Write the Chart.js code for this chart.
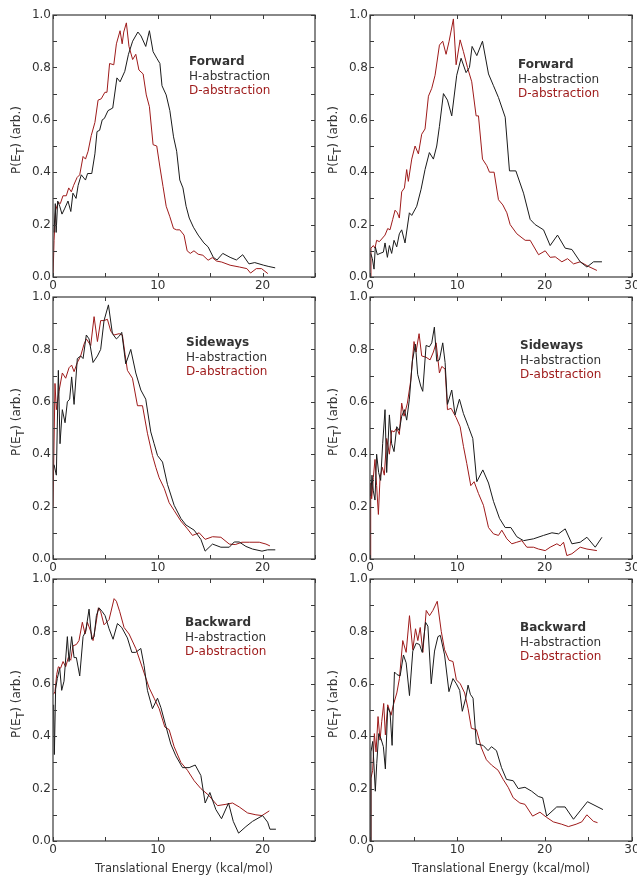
<!DOCTYPE html>
<html lang="en">
<head>
  <meta charset="UTF-8" />
  <title>P(E_T) translational energy distributions</title>
  <script src="https://cdn.jsdelivr.net/npm/chart.js"></script>
  <style>
    body { margin: 0; background: #fff; }
    .page { position: relative; width: 637px; height: 876px; overflow: hidden; }
    .page canvas { position: absolute; }
  </style>
</head>
<body>
<div class="page">
  <canvas id="fwdL" width="320" height="297" style="left:0;top:0"></canvas>
  <canvas id="fwdR" width="320" height="297" style="left:317px;top:0"></canvas>
  <canvas id="sideL" width="320" height="297" style="left:0;top:282px"></canvas>
  <canvas id="sideR" width="320" height="297" style="left:317px;top:282px"></canvas>
  <canvas id="backL" width="320" height="312" style="left:0;top:564px"></canvas>
  <canvas id="backR" width="320" height="312" style="left:317px;top:564px"></canvas>
</div>

<script>
  // tick labels
  const yTicks = [0, 0.2, 0.4, 0.6, 0.8, 1.0];
  const xTicksLeft = [0, 10, 20];
  const xTicksRight = [0, 10, 20, 30];

  // Forward, left
  const fwdL_H_E = [0.1,0.22,0.3,0.45,0.64,0.86,1.1,1.43,1.7,1.9,2.2,2.4,2.7,3.1,3.3,3.7,4.0,4.2,4.45,4.7,4.9,5.25,5.7,6.1,6.4,6.85,7.2,7.6,8.1,8.4,8.85,9.2,9.55,9.9,10.2,10.4,10.8,11.15,11.5,11.8,12.1,12.4,12.7,13.0,13.4,13.85,14.4,14.8,15.3,15.65,16.2,16.9,17.5,18.1,18.7,19.25,20.1,20.6,21.2];
  const fwdL_H_P = [.17,.28,.17,.29,.27,.24,.26,.29,.25,.32,.30,.35,.39,.37,.395,.395,.47,.555,.56,.60,.605,.635,.645,.76,.745,.785,.85,.90,.935,.92,.88,.94,.86,.835,.815,.73,.695,.635,.535,.48,.37,.34,.27,.225,.19,.16,.13,.115,.075,.065,.09,.075,.065,.085,.05,.055,.045,.04,.035];
  const fwdL_D_E = [0,0.1,0.25,0.5,0.7,0.95,1.27,1.5,1.75,1.97,2.3,2.55,2.87,3.1,3.35,3.65,4.0,4.3,4.6,4.95,5.15,5.4,5.8,6.05,6.4,6.6,6.75,7.0,7.25,7.6,7.9,8.2,8.6,8.9,9.2,9.55,9.9,10.2,10.5,10.8,11.15,11.5,11.8,12.1,12.5,12.8,13.1,13.45,13.85,14.3,14.8,15.2,15.6,16.1,16.9,17.8,18.5,18.85,19.4,19.9,20.5];
  const fwdL_D_P = [0,.14,.255,.285,.28,.31,.31,.34,.325,.35,.38,.39,.46,.45,.48,.54,.59,.675,.68,.705,.705,.815,.81,.89,.94,.89,.935,.97,.88,.83,.85,.79,.775,.695,.65,.505,.50,.42,.345,.27,.23,.185,.18,.18,.16,.10,.09,.10,.087,.083,.064,.074,.061,.057,.045,.038,.032,.015,.032,.032,.013];

  // Forward, right
  const fwdR_H_E = [0.08,0.27,0.46,0.61,0.84,1.15,1.53,1.72,1.99,2.22,2.48,2.75,3.06,3.36,3.63,4.01,4.51,4.78,5.35,5.85,6.3,6.8,7.26,7.64,7.95,8.41,8.87,9.36,9.93,10.43,11.0,11.39,11.69,12.23,12.88,13.57,14.14,14.71,15.48,15.97,16.7,17.58,18.34,18.91,19.87,20.63,21.47,22.35,23.12,24.07,24.84,25.6,26.56];
  const fwdR_H_P = [.09,.07,.03,.115,.085,.09,.095,.13,.075,.12,.09,.14,.115,.165,.18,.13,.245,.235,.27,.335,.41,.475,.45,.50,.575,.70,.675,.615,.77,.835,.78,.80,.88,.845,.90,.775,.73,.685,.61,.405,.405,.32,.22,.20,.18,.12,.16,.11,.105,.058,.038,.058,.058];
  const fwdR_D_E = [0,0.11,0.38,0.57,0.76,1.07,1.34,1.72,2.03,2.29,2.6,2.87,3.13,3.36,3.63,3.94,4.2,4.39,4.78,5.16,5.54,5.92,6.3,6.69,7.07,7.45,7.95,8.33,8.71,9.06,9.55,9.86,10.32,10.7,11.16,11.65,12.15,12.42,12.88,13.37,13.68,14.21,14.71,15.21,15.67,16.05,16.81,17.77,18.34,19.3,20.06,20.63,21.21,21.97,22.62,23.31,24.07,25.03,25.98];
  const fwdR_D_P = [0,.11,.12,.11,.14,.135,.145,.16,.185,.18,.22,.255,.245,.225,.325,.34,.41,.365,.45,.50,.47,.545,.565,.69,.72,.77,.885,.90,.85,.90,.985,.81,.905,.86,.80,.745,.615,.615,.45,.425,.40,.40,.295,.275,.245,.20,.165,.14,.14,.085,.10,.075,.077,.058,.07,.05,.058,.04,.025];

  // Sideways, left
  const sideL_H_E = [0.1,0.32,0.51,0.67,0.89,1.15,1.37,1.59,1.78,2.01,2.32,2.64,2.87,3.18,3.44,3.82,4.24,4.55,4.87,5.29,5.67,6.05,6.31,6.56,6.94,7.42,7.9,8.38,8.85,9.33,9.65,9.97,10.45,10.92,11.56,12.2,12.68,13.47,14.11,14.52,15.22,16.02,16.82,17.29,17.77,18.41,19.04,19.94,20.48,21.21];
  const sideL_H_P = [.36,.32,.72,.44,.57,.52,.60,.61,.695,.59,.765,.775,.765,.855,.84,.75,.775,.80,.91,.97,.86,.84,.85,.865,.745,.80,.71,.645,.61,.485,.44,.395,.37,.285,.205,.155,.13,.11,.075,.03,.057,.045,.045,.065,.065,.048,.038,.03,.035,.035];
  const sideL_D_E = [0,0.19,0.32,0.57,0.89,1.21,1.53,1.78,2.01,2.32,2.64,2.96,3.18,3.6,3.92,4.24,4.55,4.87,5.19,5.51,5.83,6.31,6.62,6.88,7.1,7.58,8.06,8.54,9.01,9.49,9.81,10.13,10.61,11.08,11.56,12.2,12.83,13.31,13.95,14.52,15.22,16.02,16.82,17.39,18.03,18.73,19.68,20.32,20.7];
  const sideL_D_P = [.2,.67,.57,.64,.71,.69,.73,.74,.715,.75,.775,.82,.84,.815,.925,.83,.91,.91,.915,.87,.855,.86,.855,.78,.72,.69,.585,.585,.48,.395,.35,.31,.27,.215,.185,.145,.115,.09,.10,.075,.085,.083,.057,.055,.064,.064,.064,.057,.05];

  // Sideways, right
  const sideR_H_E = [0.08,0.23,0.38,0.57,0.76,0.99,1.22,1.45,1.72,1.91,2.22,2.48,2.75,3.06,3.36,3.63,3.94,4.2,4.51,4.85,5.2,5.46,5.81,6.04,6.42,6.8,7.07,7.37,7.64,7.95,8.33,8.6,8.87,9.36,9.74,10.24,10.7,11.27,11.77,12.23,12.92,13.57,14.14,14.83,15.48,16.13,16.81,17.58,18.72,19.87,20.83,21.59,22.35,23.12,24.07,24.84,25.79,26.56];
  const sideR_H_P = [.24,.32,.26,.225,.40,.33,.30,.44,.57,.33,.55,.44,.41,.505,.49,.545,.57,.53,.61,.755,.82,.705,.66,.64,.815,.81,.825,.885,.755,.76,.825,.75,.59,.645,.55,.61,.555,.505,.46,.295,.34,.29,.22,.155,.12,.12,.085,.07,.077,.09,.10,.096,.115,.058,.064,.083,.045,.083];
  const sideR_D_E = [0,0.08,0.19,0.38,0.57,0.76,0.96,1.15,1.41,1.64,1.91,2.22,2.48,2.75,3.06,3.36,3.63,3.9,4.28,4.66,5.04,5.27,5.62,5.92,6.42,6.88,7.26,7.57,7.95,8.22,8.6,8.87,9.29,9.86,10.32,10.7,11.08,11.54,11.92,12.42,12.99,13.57,14.14,14.71,15.09,15.67,16.24,16.81,17.39,17.96,18.72,19.3,20.06,20.63,21.4,21.78,22.16,22.54,23.12,24.07,24.84,25.98];
  const sideR_D_P = [0,.29,.23,.31,.38,.28,.17,.31,.35,.32,.46,.40,.49,.485,.50,.475,.595,.545,.595,.68,.83,.79,.86,.775,.77,.76,.79,.825,.71,.735,.725,.57,.575,.54,.505,.43,.365,.28,.295,.25,.205,.12,.096,.09,.11,.077,.058,.064,.07,.045,.045,.038,.032,.045,.058,.05,.064,.013,.02,.045,.038,.032];

  // Backward, left
  const backL_H_E = [0.06,0.13,0.25,0.41,0.64,0.83,1.05,1.37,1.53,1.78,2.01,2.23,2.55,2.87,3.12,3.44,3.69,3.92,4.14,4.39,4.71,4.97,5.35,5.73,6.15,6.56,7.1,7.52,7.9,8.38,8.69,9.01,9.49,9.97,10.29,10.76,11.24,11.72,12.36,12.99,13.57,14.11,14.52,14.97,15.54,16.08,16.75,17.2,17.71,18.41,19.04,20.0,20.48,20.7,21.27];
  const backL_H_P = [.52,.33,.58,.62,.66,.575,.61,.78,.685,.78,.70,.70,.63,.78,.80,.885,.77,.78,.86,.89,.875,.86,.81,.77,.83,.815,.775,.72,.72,.735,.67,.575,.505,.545,.51,.44,.37,.325,.28,.28,.29,.25,.145,.185,.12,.085,.145,.075,.03,.055,.075,.097,.072,.045,.045];
  const backL_D_E = [0.06,0.19,0.35,0.51,0.73,0.96,1.21,1.46,1.69,1.91,2.23,2.48,2.8,3.06,3.28,3.6,3.82,4.08,4.33,4.55,4.87,5.35,5.83,6.05,6.37,6.78,7.26,7.9,8.54,9.17,9.65,10.13,10.67,11.08,11.56,12.2,12.83,13.47,14.11,14.84,15.7,16.5,17.13,17.77,18.57,19.36,19.94,20.64];
  const backL_D_P = [.56,.57,.635,.665,.66,.685,.665,.70,.69,.745,.75,.765,.835,.79,.835,.80,.765,.825,.89,.875,.825,.845,.925,.915,.875,.815,.79,.735,.66,.585,.545,.505,.435,.425,.36,.30,.27,.23,.20,.175,.135,.14,.145,.13,.107,.10,.097,.115];

  // Backward, right
  const backR_H_E = [0,0.11,0.31,0.61,0.77,1.0,1.26,1.53,1.76,2.03,2.3,2.53,2.8,3.1,3.45,3.83,4.14,4.52,4.9,5.29,5.67,5.98,6.36,6.63,7.01,7.39,7.78,8.05,8.54,9.04,9.5,9.89,10.27,10.57,10.96,11.23,11.49,11.8,12.18,12.95,13.52,13.91,14.48,15.06,15.63,16.4,16.97,17.74,18.51,19.27,19.77,20.23,21.38,22.34,23.3,24.06,24.9,26.67];
  const backR_H_P = [0,.34,.38,.19,.295,.41,.39,.36,.275,.51,.49,.365,.645,.635,.63,.71,.68,.555,.725,.755,.75,.72,.835,.82,.60,.725,.78,.785,.71,.57,.62,.60,.575,.495,.545,.595,.56,.545,.37,.365,.345,.36,.345,.28,.235,.23,.20,.205,.19,.17,.165,.095,.13,.13,.083,.115,.15,.12];
  const backR_D_E = [0,0.11,0.31,0.5,0.69,0.92,1.15,1.34,1.57,1.76,2.03,2.41,2.68,3.07,3.37,3.75,4.14,4.52,4.9,5.21,5.48,5.75,6.05,6.44,6.82,7.2,7.7,8.16,8.54,9.04,9.5,9.89,10.34,10.84,11.23,11.61,12.18,12.76,13.33,13.91,14.67,15.25,15.82,16.4,17.16,17.74,18.62,19.46,20.23,20.99,21.95,22.72,23.6,24.25,24.83,25.59,26.05];
  const backR_D_P = [0,.24,.27,.41,.34,.475,.385,.455,.525,.405,.52,.48,.52,.565,.62,.765,.72,.86,.73,.81,.765,.815,.72,.88,.86,.88,.915,.80,.73,.69,.685,.615,.60,.565,.505,.43,.425,.355,.31,.29,.27,.235,.205,.165,.145,.14,.095,.11,.09,.073,.064,.055,.064,.073,.10,.075,.07];

  const FONT = '"DejaVu Sans", sans-serif';
  const TEXT = '#333';
  const RED = '#9e1a1a';
  const BLACK = '#1a1a1a';
  Chart.defaults.font.family = FONT;
  Chart.defaults.color = TEXT;

  const zip = (xs, ys) => xs.map((x, i) => ({ x: x, y: ys[i] })).filter(p => p.y !== undefined);

  // frame, inward ticks, y title and the little legend text
  const deco = {
    id: 'deco',
    afterDraw(chart, args, o) {
      const { ctx, chartArea: a, scales: { x, y } } = chart;
      ctx.save();
      ctx.strokeStyle = '#3a3a3a';
      ctx.lineWidth = 1.2;
      ctx.strokeRect(a.left, a.top, a.right - a.left, a.bottom - a.top);

      ctx.lineWidth = 1;
      ctx.beginPath();
      for (let v = x.min; v <= x.max; v += 5) {
        const px = Math.round(x.getPixelForValue(v)) + 0.5;
        ctx.moveTo(px, a.bottom); ctx.lineTo(px, a.bottom - 4);
        ctx.moveTo(px, a.top); ctx.lineTo(px, a.top + 4);
      }
      for (let k = 0; k <= 10; k++) {
        const py = Math.round(y.getPixelForValue(k / 10)) + 0.5;
        ctx.moveTo(a.left, py); ctx.lineTo(a.left + 4, py);
        ctx.moveTo(a.right, py); ctx.lineTo(a.right - 4, py);
      }
      ctx.stroke();

      // y title, rotated, with subscript T
      const midY = (a.top + a.bottom) / 2 - 6;
      ctx.translate(20, midY);
      ctx.rotate(-Math.PI / 2);
      ctx.fillStyle = TEXT;
      ctx.textBaseline = 'alphabetic';
      ctx.font = '12px ' + FONT;
      const p1 = 'P(E', p3 = ') (arb.)';
      ctx.font = '11px ' + FONT;
      const wT = ctx.measureText('T').width;
      ctx.font = '12px ' + FONT;
      const w1 = ctx.measureText(p1).width, w3 = ctx.measureText(p3).width;
      let tx = -(w1 + wT + w3) / 2;
      ctx.fillText(p1, tx, 0); tx += w1;
      ctx.font = '11px ' + FONT;
      ctx.fillText('T', tx, 4); tx += wT;
      ctx.font = '12px ' + FONT;
      ctx.fillText(p3, tx, 0);
      ctx.setTransform(1, 0, 0, 1, 0, 0);

      // in-plot legend
      const lx = a.left + o.dx, ly = a.top + o.dy;
      ctx.textBaseline = 'middle';
      ctx.textAlign = 'left';
      ctx.font = 'bold 12px ' + FONT;
      ctx.fillStyle = TEXT;
      ctx.fillText(o.name, lx, ly);
      ctx.font = '12px ' + FONT;
      ctx.fillText('H\u2013abstraction'.replace('\u2013', '-'), lx, ly + 15);
      ctx.fillStyle = RED;
      ctx.fillText('D-abstraction', lx, ly + 29);
      ctx.restore();
    }
  };

  function makePanel(id, name, hE, hP, dE, dP, xMax, xTicks, bottom, dx, dy) {
    const ctx = document.getElementById(id).getContext('2d');
    new Chart(ctx, {
      type: 'scatter',
      data: {
        datasets: [
          { label: 'H-abstraction', data: zip(hE, hP), showLine: true, borderColor: BLACK, borderWidth: 1, pointRadius: 0, tension: 0 },
          { label: 'D-abstraction', data: zip(dE, dP), showLine: true, borderColor: RED, borderWidth: 1, pointRadius: 0, tension: 0 }
        ]
      },
      options: {
        responsive: false,
        animation: false,
        devicePixelRatio: 1,
        layout: { padding: { top: 15, right: 5, left: 0, bottom: 0 } },
        plugins: {
          legend: { display: false },
          tooltip: { enabled: false },
          deco: { name: name, dx: dx, dy: dy }
        },
        scales: {
          x: {
            type: 'linear', min: 0, max: xMax,
            afterBuildTicks: s => { s.ticks = xTicks.map(v => ({ value: v })); },
            ticks: { font: { size: 12 }, color: TEXT, padding: 2, maxRotation: 0, callback: v => String(v) },
            grid: { display: false, drawTicks: false },
            border: { display: false },
            title: {
              display: bottom,
              text: 'Translational Energy (kcal/mol)',
              font: { size: 11.5 }, color: TEXT,
              padding: { top: 4, bottom: 0 }
            },
            afterFit: s => { s.height = bottom ? 35 : 20; s.paddingLeft = 0; s.paddingRight = 0; }
          },
          y: {
            min: 0, max: 1,
            afterBuildTicks: s => { s.ticks = yTicks.map(v => ({ value: v })); },
            ticks: { font: { size: 12 }, color: TEXT, padding: 2, callback: v => v.toFixed(1) },
            grid: { display: false, drawTicks: false },
            border: { display: false },
            afterFit: s => { s.width = 53; s.paddingTop = 0; s.paddingBottom = 0; }
          }
        }
      },
      plugins: [deco]
    });
  }

  makePanel('fwdL', 'Forward', fwdL_H_E, fwdL_H_P, fwdL_D_E, fwdL_D_P, 25, xTicksLeft, false, 136, 47);
  makePanel('fwdR', 'Forward', fwdR_H_E, fwdR_H_P, fwdR_D_E, fwdR_D_P, 30, xTicksRight, false, 148, 50);
  makePanel('sideL', 'Sideways', sideL_H_E, sideL_H_P, sideL_D_E, sideL_D_P, 25, xTicksLeft, false, 133, 46);
  makePanel('sideR', 'Sideways', sideR_H_E, sideR_H_P, sideR_D_E, sideR_D_P, 30, xTicksRight, false, 150, 49);
  makePanel('backL', 'Backward', backL_H_E, backL_H_P, backL_D_E, backL_D_P, 25, xTicksLeft, true, 132, 44);
  makePanel('backR', 'Backward', backR_H_E, backR_H_P, backR_D_E, backR_D_P, 30, xTicksRight, true, 150, 49);
</script>
</body>
</html>
